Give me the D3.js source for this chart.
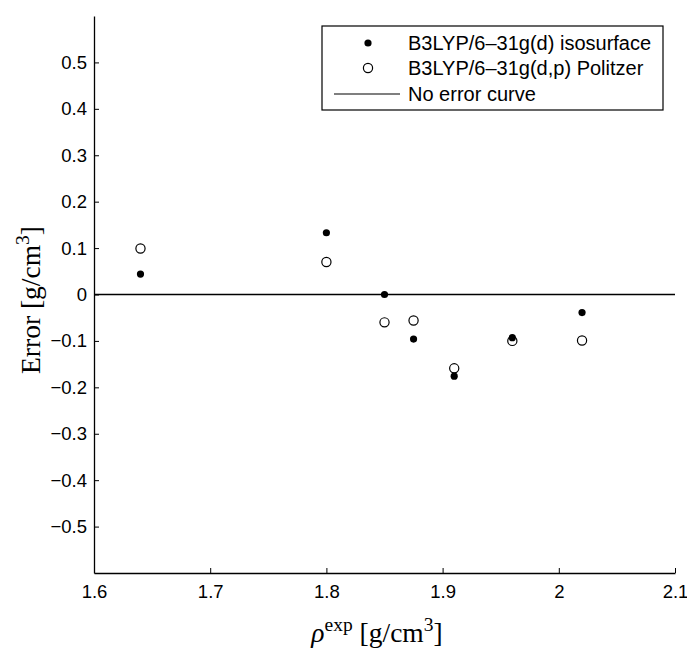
<!DOCTYPE html>
<html>
<head>
<meta charset="utf-8">
<script src="https://cdn.jsdelivr.net/npm/d3@7"></script>
<style>
  body { margin: 0; background: #fff; }
  .tick text { font-family: "Liberation Sans", Arial, sans-serif; font-size: 18.5px; fill: #000; }
  .axis-label { font-family: "Liberation Serif", "Times New Roman", serif; fill: #000; }
  .legend text { font-family: "Liberation Sans", Arial, sans-serif; font-size: 20px; fill: #000; }
</style>
</head>
<body>
<div id="chart"></div>
<script>
// density (experimental) for each compound
const rhoExp = [1.64, 1.80, 1.85, 1.875, 1.91, 1.96, 2.02];
// error of B3LYP/6-31g(d) isosurface
const errIsosurface = [0.044, 0.133, 0.0, -0.096, -0.176, -0.093, -0.039];
// error of B3LYP/6-31g(d,p) Politzer
const errPolitzer = [0.099, 0.070, -0.060, -0.056, -0.159, -0.100, -0.099];

const xTicks = [1.6, 1.7, 1.8, 1.9, 2.0, 2.1];
const yTicks = [-0.5, -0.4, -0.3, -0.2, -0.1, 0, 0.1, 0.2, 0.3, 0.4, 0.5];
const legendLabels = ["B3LYP/6\u201331g(d) isosurface", "B3LYP/6\u201331g(d,p) Politzer", "No error curve"];

const W = 687, H = 652;
const margin = {top: 16, right: 12, bottom: 79, left: 94};
const width = W - margin.left - margin.right;
const height = H - margin.top - margin.bottom;

const svg = d3.select("#chart").append("svg")
  .attr("width", W).attr("height", H);

const g = svg.append("g")
  .attr("transform", `translate(${margin.left},${margin.top})`);

const x = d3.scaleLinear().domain([1.6, 2.1]).range([0, width]);
const y = d3.scaleLinear().domain([-0.6, 0.6]).range([height, 0]);

// matlab style labels, minus drawn as a dash
const fmt = d => d === 0 ? "0" : (d < 0 ? "\u2212" : "") + d3.format("")(Math.abs(+d.toFixed(1)));

// x axis (ticks pointing inward)
const xAxis = g.append("g")
  .attr("transform", `translate(0,${height})`)
  .call(d3.axisBottom(x).tickValues(xTicks).tickSizeInner(-5).tickSizeOuter(0).tickPadding(12).tickFormat(fmt));
xAxis.select(".domain").attr("stroke-width", 1.3);

// y axis
const yAxis = g.append("g")
  .call(d3.axisLeft(y).tickValues(yTicks).tickSizeInner(-5).tickSizeOuter(0).tickPadding(7).tickFormat(fmt));
yAxis.select(".domain").attr("stroke-width", 1.3);

// zero error line
g.append("line")
  .attr("x1", x(1.6)).attr("x2", x(2.1))
  .attr("y1", y(0)).attr("y2", y(0))
  .attr("stroke", "#000").attr("stroke-width", 1.5);

// Politzer points (open)
g.selectAll(".open").data(rhoExp).enter().append("circle")
  .attr("class", "open")
  .attr("cx", d => x(d))
  .attr("cy", (d, i) => y(errPolitzer[i]))
  .attr("r", 4.6)
  .attr("fill", "none").attr("stroke", "#000").attr("stroke-width", 1.2);

// isosurface points (filled)
g.selectAll(".filled").data(rhoExp).enter().append("circle")
  .attr("class", "filled")
  .attr("cx", d => x(d))
  .attr("cy", (d, i) => y(errIsosurface[i]))
  .attr("r", 3.6)
  .attr("fill", "#000");

// axis labels
const xl = svg.append("text")
  .attr("class", "axis-label")
  .attr("x", 377).attr("y", 642)
  .attr("text-anchor", "middle")
  .style("font-size", "27.5px");
xl.append("tspan").style("font-style", "italic").text("\u03C1");
xl.append("tspan").attr("dy", -11).style("font-size", "19.5px").text("exp");
xl.append("tspan").attr("dy", 11).text(" [g/cm");
xl.append("tspan").attr("dy", -11).style("font-size", "19.5px").text("3");
xl.append("tspan").attr("dy", 11).text("]");

const yl = svg.append("text")
  .attr("class", "axis-label")
  .attr("transform", "translate(40,300) rotate(-90)")
  .attr("text-anchor", "middle")
  .style("font-size", "27.5px");
yl.append("tspan").text("Error [g/cm");
yl.append("tspan").attr("dy", -11).style("font-size", "19.5px").text("3");
yl.append("tspan").attr("dy", 11).text("]");

// legend
const legend = svg.append("g").attr("class", "legend");
legend.append("rect")
  .attr("x", 322).attr("y", 26).attr("width", 341).attr("height", 84)
  .attr("fill", "#fff").attr("stroke", "#000").attr("stroke-width", 1.2);
const rowY = [43, 68, 94];
legend.append("circle").attr("cx", 368).attr("cy", rowY[0]).attr("r", 3.6).attr("fill", "#000");
legend.append("circle").attr("cx", 368).attr("cy", rowY[1]).attr("r", 4.6)
  .attr("fill", "none").attr("stroke", "#000").attr("stroke-width", 1.2);
legend.append("line").attr("x1", 334).attr("x2", 400).attr("y1", rowY[2]).attr("y2", rowY[2])
  .attr("stroke", "#000").attr("stroke-width", 1.2);
legend.selectAll("text").data(legendLabels).enter().append("text")
  .attr("x", 408).attr("y", (d, i) => rowY[i])
  .attr("dy", "0.36em")
  .text(d => d);
</script>
</body>
</html>
